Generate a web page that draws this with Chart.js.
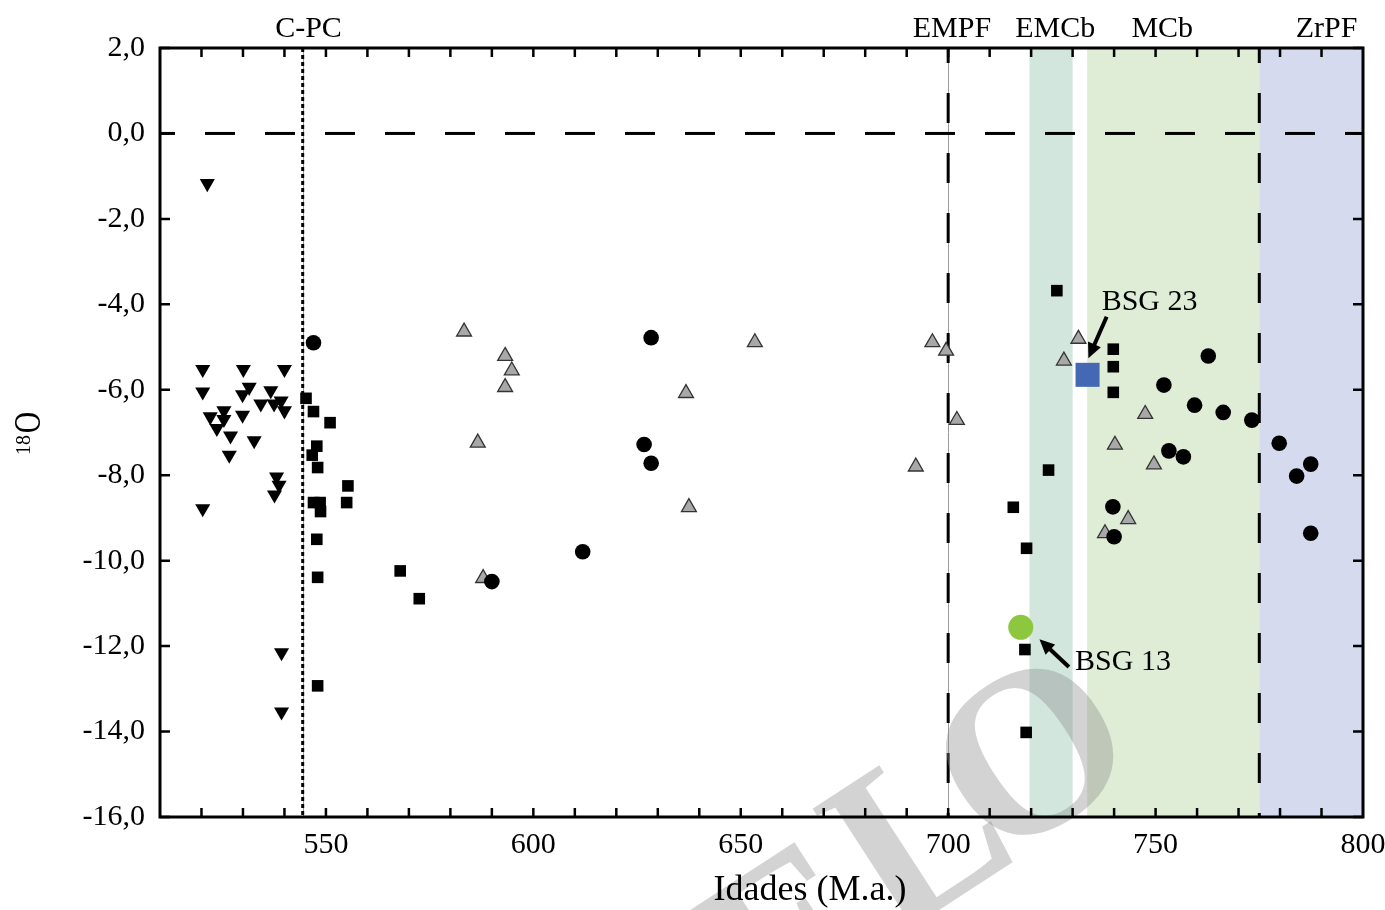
<!DOCTYPE html>
<html>
<head>
<meta charset="utf-8">
<script src="https://cdn.jsdelivr.net/npm/chart.js@4.4.0/dist/chart.umd.min.js"></script>
<style>
  html, body { margin: 0; padding: 0; background: #fff; }
  #wrap { width: 1385px; height: 910px; }
</style>
</head>
<body>
<div id="wrap"><canvas id="chart" width="1385" height="910"></canvas></div>
<script>
// Ages (M.a.) and values, one pair of arrays per symbol group
const invTriAges = [521.4, 520.3, 530.1, 540.0, 520.3, 531.5, 529.9, 536.7, 539.2, 534.3, 537.5, 540.0, 525.4,
  522.1, 525.4, 529.9, 523.7, 527.0, 532.7, 526.7, 538.1, 538.7, 537.6, 520.3, 539.3, 539.3];
const invTriVals = [-1.17, -5.52, -5.52, -5.52, -6.05, -5.94, -6.11, -6.02, -6.26, -6.33, -6.33, -6.49, -6.49,
  -6.63, -6.69, -6.59, -6.90, -7.08, -7.19, -7.53, -8.04, -8.23, -8.46, -8.78, -12.15, -13.54];

const squareAges = [545.2, 547.0, 551.0, 547.8, 546.7, 548.0, 555.3, 547.0, 548.6, 548.7, 555.0, 547.8, 567.9,
  548.0, 572.5, 548.0, 726.2, 739.8, 739.8, 739.8, 724.2, 715.7, 718.9, 718.5, 718.8];
const squareVals = [-6.20, -6.51, -6.77, -7.32, -7.53, -7.82, -8.25, -8.64, -8.64, -8.85, -8.64, -9.50, -10.24,
  -10.39, -10.89, -12.93, -3.68, -5.05, -5.46, -6.06, -7.88, -8.75, -9.71, -12.08, -14.02];

const circleAges = [547.0, 590.0, 611.9, 626.7, 628.4, 628.4, 762.7, 752.0, 759.4, 766.3, 773.2, 753.2, 756.7,
  779.8, 787.4, 784.0, 739.7, 740.0, 787.4];
const circleVals = [-4.90, -10.49, -9.79, -7.28, -7.72, -4.78, -5.21, -5.89, -6.36, -6.53, -6.71, -7.43, -7.57,
  -7.25, -7.74, -8.02, -8.74, -9.44, -9.36];

const greyTriAges = [583.3, 593.2, 594.8, 593.2, 586.6, 587.9, 653.4, 636.8, 637.5, 696.2, 699.5, 702.1, 692.2,
  731.4, 727.9, 747.5, 740.2, 749.6, 743.4, 737.8];
const greyTriVals = [-4.64, -5.21, -5.55, -5.94, -7.24, -10.41, -4.89, -6.08, -8.75, -4.89, -5.09, -6.71, -7.80,
  -4.81, -5.32, -6.57, -7.29, -7.75, -9.03, -9.36];

const bsg23 = [733.6, -5.65];
const bsg13 = [717.5, -11.56];

// Period bands and boundaries
const bandStarts = [719.6, 733.5, 775];
const bandEnds = [730, 775, 800];
const cpcAge = 544.4;
const empfAge = 700;
const zrpfAge = 775;
const topLabels = ['C-PC', 'EMPF', 'EMCb', 'MCb', 'ZrPF'];
const topLabelAges = [545.8, 700.9, 725.8, 751.6, 791.2];

const xTicks = [550, 600, 650, 700, 750, 800];
const yTicks = [2, 0, -2, -4, -6, -8, -10, -12, -14, -16];

const toPoints = (xs, ys) => xs.map((x, i) => ({ x, y: ys[i] }));
const SERIF = '"Liberation Serif", "Times New Roman", serif';

function arrow(ctx, x1, y1, x2, y2) {
  const ang = Math.atan2(y2 - y1, x2 - x1);
  const head = 15;
  ctx.save();
  ctx.strokeStyle = '#000';
  ctx.fillStyle = '#000';
  ctx.lineWidth = 4;
  ctx.beginPath();
  ctx.moveTo(x1, y1);
  ctx.lineTo(x2 - Math.cos(ang) * head * 0.8, y2 - Math.sin(ang) * head * 0.8);
  ctx.stroke();
  ctx.beginPath();
  ctx.moveTo(x2, y2);
  ctx.lineTo(x2 - Math.cos(ang) * head + Math.sin(ang) * 7, y2 - Math.sin(ang) * head - Math.cos(ang) * 7);
  ctx.lineTo(x2 - Math.cos(ang) * head - Math.sin(ang) * 7, y2 - Math.sin(ang) * head + Math.cos(ang) * 7);
  ctx.closePath();
  ctx.fill();
  ctx.restore();
}

function watermarkLetter(ctx, ch, ox, oy) {
  ctx.save();
  ctx.translate(ox, oy);
  ctx.rotate(-33 * Math.PI / 180);
  ctx.fillText(ch, 0, 0);
  ctx.restore();
}

const decor = {
  id: 'decor',
  beforeDatasetsDraw(chart) {
    const { ctx, chartArea: a, scales: { x, y } } = chart;
    ctx.save();
    // period bands
    const bandColors = ['#d2e6dd', '#dfecd6', '#d5daee'];
    bandStarts.forEach((s, i) => {
      const x0 = x.getPixelForValue(s);
      const x1 = x.getPixelForValue(bandEnds[i]);
      ctx.fillStyle = bandColors[i];
      ctx.fillRect(x0, a.top, x1 - x0, a.bottom - a.top);
    });

    // thin grey guides under the boundary lines
    ctx.strokeStyle = '#9a9a9a';
    ctx.lineWidth = 1;
    [cpcAge, empfAge].forEach(v => {
      const px = Math.round(x.getPixelForValue(v)) + 0.5;
      ctx.beginPath();
      ctx.moveTo(px, a.top);
      ctx.lineTo(px, a.bottom);
      ctx.stroke();
    });

    // dotted C-PC line
    ctx.strokeStyle = '#000';
    ctx.lineWidth = 3;
    ctx.setLineDash([4, 3]);
    const pc = x.getPixelForValue(cpcAge);
    ctx.beginPath();
    ctx.moveTo(pc, a.top);
    ctx.lineTo(pc, a.bottom);
    ctx.stroke();

    // dashed lines
    ctx.setLineDash([30, 30]);
    ctx.lineDashOffset = 15;
    [empfAge, zrpfAge].forEach(v => {
      const p = x.getPixelForValue(v);
      ctx.beginPath();
      ctx.moveTo(p, a.top);
      ctx.lineTo(p, a.bottom);
      ctx.stroke();
    });
    const y0 = y.getPixelForValue(0);
    ctx.beginPath();
    ctx.moveTo(a.left, y0);
    ctx.lineTo(a.right, y0);
    ctx.stroke();
    ctx.restore();

    // watermark letters
    ctx.save();
    ctx.font = 'bold 235px ' + SERIF;
    ctx.fillStyle = 'rgba(140,140,140,0.38)';
    ctx.textAlign = 'left';
    ctx.textBaseline = 'alphabetic';
    watermarkLetter(ctx, 'E', 765, 1045);
    watermarkLetter(ctx, 'L', 893, 940);
    watermarkLetter(ctx, 'O', 995, 866);
    ctx.restore();
  },
  afterDraw(chart) {
    const { ctx, chartArea: a, scales: { x, y } } = chart;
    ctx.save();
    // frame
    ctx.strokeStyle = '#000';
    ctx.lineWidth = 3;
    ctx.strokeRect(a.left, a.top, a.right - a.left, a.bottom - a.top);

    // inward ticks
    ctx.lineWidth = 2.5;
    ctx.beginPath();
    for (let v = 520; v < 800; v += 10) {
      const p = x.getPixelForValue(v);
      ctx.moveTo(p, a.bottom); ctx.lineTo(p, a.bottom - 9);
      ctx.moveTo(p, a.top); ctx.lineTo(p, a.top + 9);
    }
    yTicks.forEach(v => {
      const p = y.getPixelForValue(v);
      ctx.moveTo(a.left, p); ctx.lineTo(a.left + 10, p);
      ctx.moveTo(a.right, p); ctx.lineTo(a.right - 10, p);
    });
    ctx.stroke();

    // period labels above the frame
    ctx.fillStyle = '#000';
    ctx.font = '30px ' + SERIF;
    ctx.textAlign = 'center';
    ctx.textBaseline = 'alphabetic';
    topLabels.forEach((t, i) => ctx.fillText(t, x.getPixelForValue(topLabelAges[i]), a.top - 11));

    // sample labels with arrows
    arrow(ctx, x.getPixelForValue(738.2), y.getPixelForValue(-4.29), x.getPixelForValue(733.8), y.getPixelForValue(-5.26));
    arrow(ctx, x.getPixelForValue(729.1), y.getPixelForValue(-12.49), x.getPixelForValue(722.0), y.getPixelForValue(-11.84));
    ctx.textAlign = 'left';
    ctx.textBaseline = 'middle';
    ctx.fillText('BSG 23', x.getPixelForValue(737.0), y.getPixelForValue(-3.95));
    ctx.fillText('BSG 13', x.getPixelForValue(730.6), y.getPixelForValue(-12.37));

    // axis titles
    ctx.font = '36px ' + SERIF;
    ctx.textAlign = 'center';
    ctx.textBaseline = 'alphabetic';
    ctx.fillText('Idades (M.a.)', 810, 900);

    ctx.translate(27, 434);
    ctx.rotate(-Math.PI / 2);
    ctx.textAlign = 'left';
    ctx.font = '20px ' + SERIF;
    ctx.fillText('18', -21, 3);
    ctx.save();
    ctx.translate(0, 13);
    ctx.scale(0.78, 1);
    ctx.font = '38px ' + SERIF;
    ctx.fillText('O', 1, 0);
    ctx.restore();
    ctx.restore();
  }
};

new Chart(document.getElementById('chart'), {
  type: 'scatter',
  data: {
    datasets: [
      { label: 'inv', data: toPoints(invTriAges, invTriVals), pointStyle: 'triangle', rotation: 180,
        radius: 8.7, backgroundColor: '#000', borderColor: '#000', borderWidth: 0 },
      { label: 'sq', data: toPoints(squareAges, squareVals), pointStyle: 'rect',
        radius: 8.2, backgroundColor: '#000', borderColor: '#000', borderWidth: 0 },
      { label: 'circ', data: toPoints(circleAges, circleVals), pointStyle: 'circle',
        radius: 7.8, backgroundColor: '#000', borderColor: '#000', borderWidth: 0 },
      { label: 'grey', data: toPoints(greyTriAges, greyTriVals), pointStyle: 'triangle',
        radius: 8.6, backgroundColor: '#a8a8a8', borderColor: '#333', borderWidth: 1.3 },
      { label: 'BSG 23', data: [{ x: bsg23[0], y: bsg23[1] }], pointStyle: 'rect',
        radius: 17, backgroundColor: '#4468b4', borderColor: '#4468b4', borderWidth: 0 },
      { label: 'BSG 13', data: [{ x: bsg13[0], y: bsg13[1] }], pointStyle: 'circle',
        radius: 12.5, backgroundColor: '#8dc63f', borderColor: '#8dc63f', borderWidth: 0 }
    ]
  },
  options: {
    responsive: false,
    animation: false,
    devicePixelRatio: 1,
    layout: { padding: { top: 48, right: 22, left: 0, bottom: 0 } },
    plugins: { legend: { display: false }, tooltip: { enabled: false } },
    scales: {
      x: {
        type: 'linear', min: 510, max: 800,
        afterFit(s) { s.height = 93; s.paddingLeft = 0; s.paddingRight = 0; },
        afterBuildTicks(s) { s.ticks = xTicks.map(v => ({ value: v })); },
        grid: { display: false, drawTicks: false },
        border: { display: false },
        ticks: { autoSkip: false, maxRotation: 0, padding: 10, color: '#000',
          font: { family: SERIF, size: 30 } }
      },
      y: {
        min: -16, max: 2,
        afterFit(s) { s.width = 160; s.paddingTop = 0; s.paddingBottom = 0; },
        afterBuildTicks(s) { s.ticks = yTicks.map(v => ({ value: v })); },
        grid: { display: false, drawTicks: false },
        border: { display: false },
        ticks: { padding: 15, color: '#000', font: { family: SERIF, size: 30 },
          callback: v => v.toFixed(1).replace('.', ',') }
      }
    }
  },
  plugins: [decor]
});
</script>
</body>
</html>
